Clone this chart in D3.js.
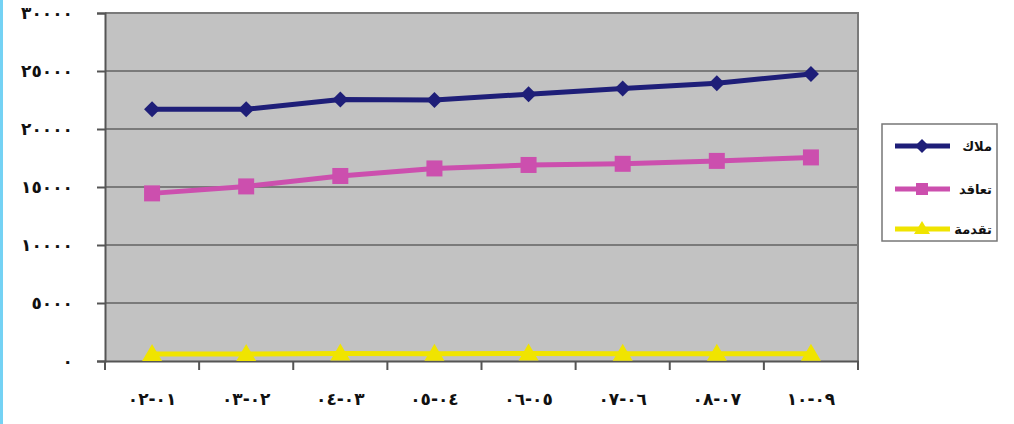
<!DOCTYPE html>
<html>
<head>
<meta charset="utf-8">
<script src="https://cdn.jsdelivr.net/npm/d3@7"></script>
<style>
  html, body { margin: 0; padding: 0; background: #ffffff; }
  svg { display: block; }
</style>
</head>
<body>
<svg id="chart" width="1014" height="424"></svg>
<script>
// Data
const categories = ["٠١-٠٢", "٠٢-٠٣", "٠٣-٠٤", "٠٤-٠٥", "٠٥-٠٦", "٠٦-٠٧", "٠٧-٠٨", "٠٩-١٠"];
const malakValues = [21700, 21700, 22550, 22500, 23000, 23500, 23950, 24750];
const taaqudValues = [14450, 15050, 15950, 16600, 16900, 17000, 17250, 17550];
const taqdimaValues = [600, 600, 650, 620, 650, 620, 620, 620];
const seriesNames = ["ملاك", "تعاقد", "تقدمة"];
const yTicks = [0, 5000, 10000, 15000, 20000, 25000, 30000];

const toArabicDigits = n => String(n).replace(/\d/g, d => "٠١٢٣٤٥٦٧٨٩"[d]);

const series = [
  { name: seriesNames[0], values: malakValues, color: "#1e1e78", marker: "diamond" },
  { name: seriesNames[1], values: taaqudValues, color: "#cc4fae", marker: "square" },
  { name: seriesNames[2], values: taqdimaValues, color: "#f0e400", marker: "triangle" }
];

const svg = d3.select("#chart");
const plot = { left: 105, right: 858, top: 13, bottom: 361 };

// left light-blue frame line
svg.append("rect").attr("x", 0).attr("y", 0).attr("width", 3).attr("height", 424).attr("fill", "#74d2f4");

const x = d3.scaleBand().domain(categories).range([plot.left, plot.right]);
const y = d3.scaleLinear().domain([0, 30000]).range([plot.bottom, plot.top]);

// plot background
svg.append("rect")
  .attr("x", plot.left).attr("y", plot.top)
  .attr("width", plot.right - plot.left).attr("height", plot.bottom - plot.top)
  .attr("fill", "#c2c2c2");

// gridlines
svg.append("g").selectAll("line").data(yTicks.filter(t => t > 0)).join("line")
  .attr("x1", plot.left).attr("x2", plot.right)
  .attr("y1", d => y(d)).attr("y2", d => y(d))
  .attr("stroke", "#7a7a7a").attr("stroke-width", 2);

// plot border (top & right)
svg.append("path")
  .attr("d", `M${plot.left},${plot.top}H${plot.right}V${plot.bottom}`)
  .attr("fill", "none").attr("stroke", "#7a7a7a").attr("stroke-width", 2);

// Y axis
const yAxis = svg.append("g").attr("transform", `translate(${plot.left},0)`)
  .call(d3.axisLeft(y).tickValues(yTicks).tickSize(8).tickPadding(24).tickFormat(toArabicDigits));
yAxis.select(".domain").attr("stroke", "#555").attr("stroke-width", 2);
yAxis.selectAll(".tick line").attr("stroke", "#555").attr("stroke-width", 2);
yAxis.selectAll(".tick text")
  .attr("font-family", "DejaVu Sans, sans-serif").attr("font-size", 17).attr("font-weight", "bold")
  .attr("letter-spacing", 3).attr("fill", "#111").attr("direction", "ltr");

// X axis
const xAxis = svg.append("g").attr("transform", `translate(0,${plot.bottom})`)
  .call(d3.axisBottom(x).tickSize(0).tickPadding(32));
xAxis.select(".domain").attr("stroke", "#555").attr("stroke-width", 2);
xAxis.selectAll(".tick text")
  .attr("font-family", "DejaVu Sans, sans-serif").attr("font-size", 17).attr("font-weight", "bold")
  .attr("letter-spacing", 2).attr("fill", "#111").attr("direction", "rtl");
// tick marks at band boundaries
const boundaries = categories.map(c => x(c)).concat([x(categories[categories.length - 1]) + x.bandwidth()]);
svg.append("g").selectAll("line").data(boundaries).join("line")
  .attr("x1", d => d).attr("x2", d => d)
  .attr("y1", plot.bottom).attr("y2", plot.bottom + 9)
  .attr("stroke", "#555").attr("stroke-width", 2);

const cx = c => x(c) + x.bandwidth() / 2;

function drawMarker(g, type, color, px, py, s) {
  if (type === "diamond") {
    g.append("path").attr("d", `M${px},${py - s}L${px + s},${py}L${px},${py + s}L${px - s},${py}Z`).attr("fill", color);
  } else if (type === "square") {
    g.append("rect").attr("x", px - s).attr("y", py - s).attr("width", 2 * s).attr("height", 2 * s).attr("fill", color);
  } else {
    g.append("path").attr("d", `M${px},${py - s - 2}L${px + s + 2},${py + s - 1}L${px - s - 2},${py + s - 1}Z`).attr("fill", color);
  }
}

const line = d3.line().x((d, i) => cx(categories[i])).y(d => y(d));
series.forEach(s => {
  const g = svg.append("g");
  g.append("path").datum(s.values).attr("d", line)
    .attr("fill", "none").attr("stroke", s.color).attr("stroke-width", 5).attr("stroke-linejoin", "round");
  s.values.forEach((v, i) => {
    drawMarker(g, s.marker, s.color, cx(categories[i]), y(v), 8);
  });
});

// Legend
const legend = svg.append("g");
legend.append("rect").attr("x", 882).attr("y", 124).attr("width", 115).attr("height", 117)
  .attr("fill", "#fff").attr("stroke", "#777").attr("stroke-width", 1.5);
const legendY = [146, 189, 229];
series.forEach((s, i) => {
  const ly = legendY[i];
  legend.append("line").attr("x1", 895).attr("x2", 950).attr("y1", ly).attr("y2", ly)
    .attr("stroke", s.color).attr("stroke-width", 5);
  drawMarker(legend, s.marker, s.color, 922, ly, s.marker === "diamond" ? 7 : 6);
  legend.append("text").attr("x", 992).attr("y", ly + 5)
    .attr("direction", "rtl").attr("text-anchor", "start")
    .attr("font-family", "DejaVu Sans, sans-serif").attr("font-size", 13).attr("font-weight", "bold")
    .attr("fill", "#111").text(s.name);
});
</script>
</body>
</html>
